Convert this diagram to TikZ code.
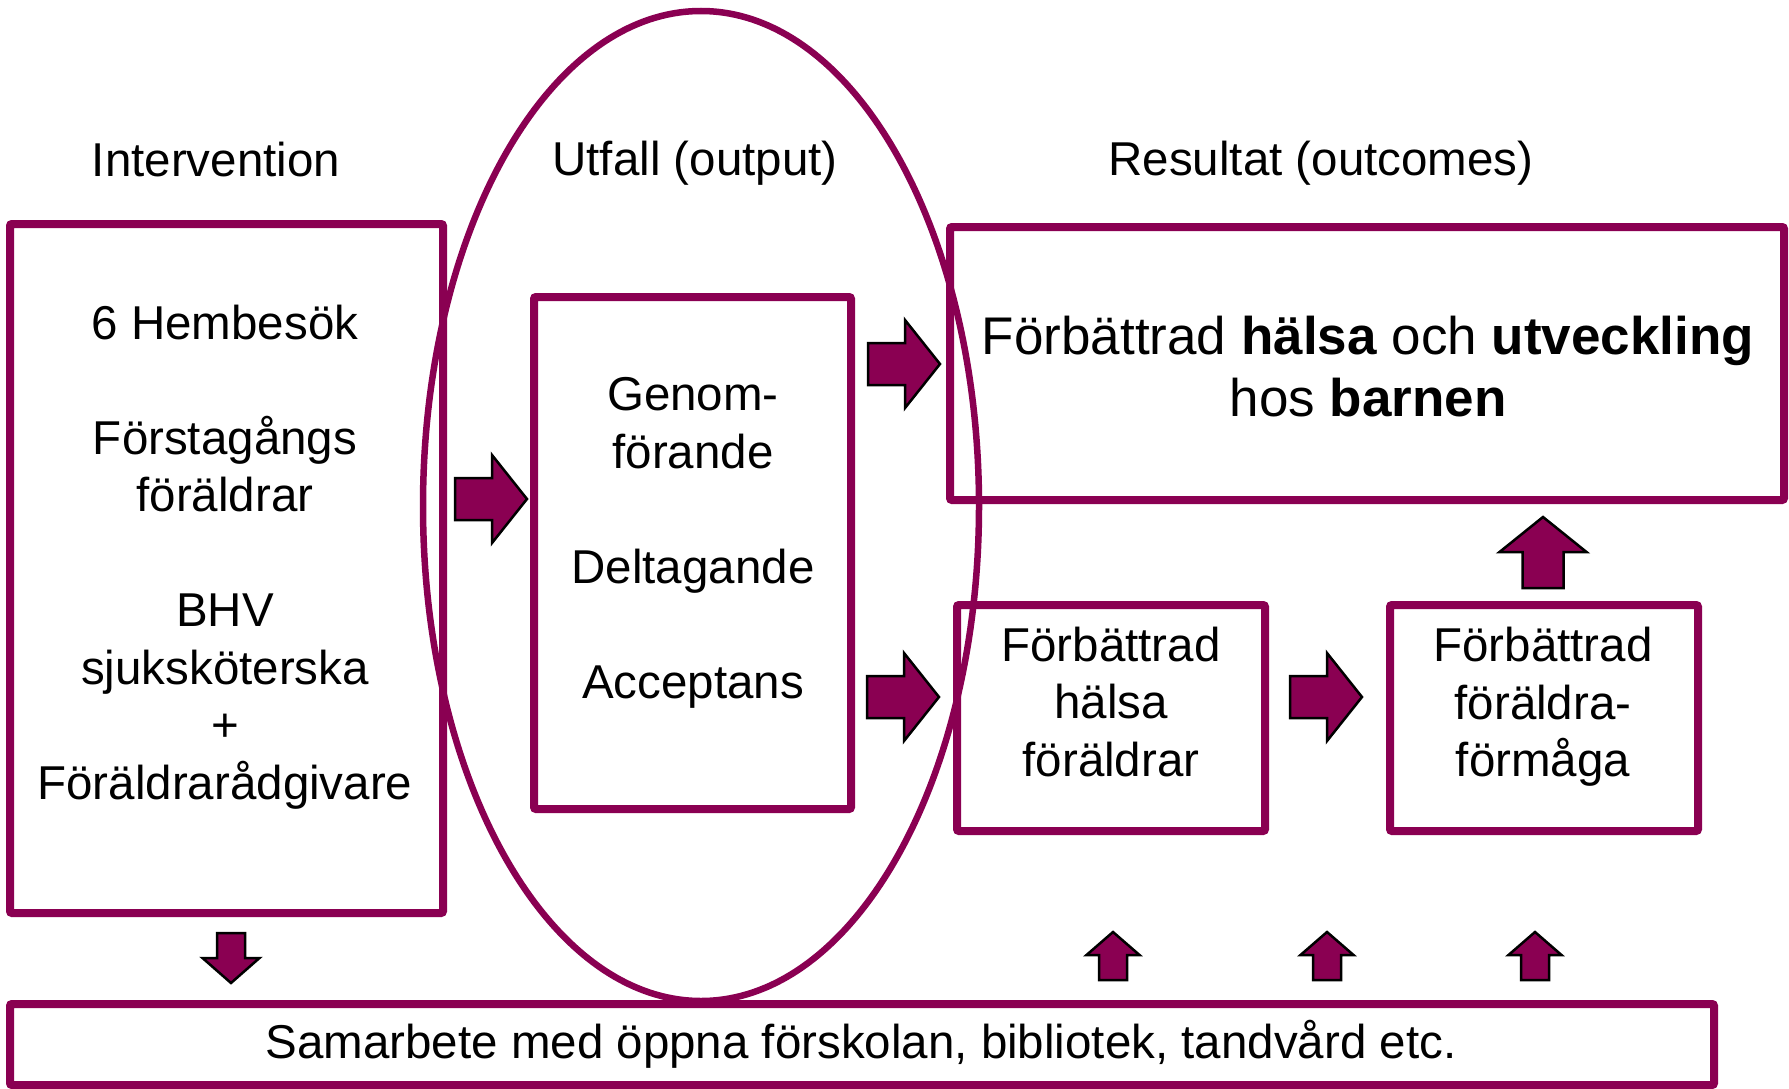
\documentclass[tikz,border=0pt]{standalone}
\usepackage{fontspec}
\setmainfont{Liberation Sans}
\definecolor{plum}{RGB}{138,0,82}
\tikzset{
  box/.style={draw=plum, line width=8pt, rounded corners=2pt},
  arr/.style={fill=plum, draw=black, line width=2.5pt, line join=miter},
  txt/.style={align=center, font=\fontsize{47.5}{57.5}\selectfont, inner sep=0pt},
  bigtxt/.style={align=center, font=\fontsize{53}{62}\selectfont, inner sep=0pt},
  rarr/.pic={\draw[arr] (-37,-21) -- (0,-21) -- (0,-44) -- (35,0) -- (0,44) -- (0,21) -- (-37,21) -- cycle;},
  uarr/.pic={\draw[arr] (-20.5,36) -- (-20.5,0) -- (-43.5,0) -- (0,-35) -- (43.5,0) -- (20.5,0) -- (20.5,36) -- cycle;},
  suarr/.pic={\draw[arr] (-14,25) -- (-14,0) -- (-26.5,0) -- (0,-23) -- (26.5,0) -- (14,0) -- (14,25) -- cycle;},
  sdarr/.pic={\draw[arr] (-14,-25) -- (-14,0) -- (-28.5,0) -- (0,25) -- (28.5,0) -- (14,0) -- (14,-25) -- cycle;}
}
\begin{document}
\begin{tikzpicture}[x=1pt,y=-1pt]
\useasboundingbox (0,0) rectangle (1789,1089);
% boxes
\draw[box] (10,224) rectangle (443,913);
\draw[box] (534,297) rectangle (851,809);
\draw[box] (950,227) rectangle (1784,500);
\draw[box] (957,605) rectangle (1265,831);
\draw[box] (1390,605) rectangle (1698,831);
\draw[box] (10,1004) rectangle (1714,1085);
% ellipse
\draw[draw=plum, line width=6.5pt] (701,506) ellipse [x radius=278, y radius=495];
% headings
\node[txt] (h1) at (216,160) {Intervention};
\node[txt] (h2) at (695,163) {Utfall (output)};
\node[txt] (h3) at (1321,163) {Resultat (outcomes)};
% texts
\node[txt] (t1) at (225,557) {6 Hembesök\\[57.5pt]Förstagångs\\föräldrar\\[57.5pt]BHV\\sjuksköterska\\+\\Föräldrarådgivare};
\node[txt] (t2) at (693,543) {Genom-\\förande\\[57.5pt]Deltagande\\[57.5pt]Acceptans};
\node[bigtxt] (t3) at (1368,367) {Förbättrad \textbf{hälsa} och \textbf{utveckling}\\hos \textbf{barnen}};
\node[txt] (t4) at (1111,702) {Förbättrad\\hälsa\\föräldrar};
\node[txt] (t5) at (1543,707) {Förbättrad\\föräldra-\\förmåga};
\node[txt] (t6) at (861,1044) {Samarbete med öppna förskolan, bibliotek, tandvård etc.};
% arrows
\pic at (492,499) {rarr};
\pic at (905,364) {rarr};
\pic at (904,697) {rarr};
\pic at (1327,697) {rarr};
\pic at (1543,552) {uarr};
\pic at (231,958) {sdarr};
\pic at (1113,955) {suarr};
\pic at (1327,955) {suarr};
\pic at (1535,955) {suarr};
\end{tikzpicture}
\end{document}
